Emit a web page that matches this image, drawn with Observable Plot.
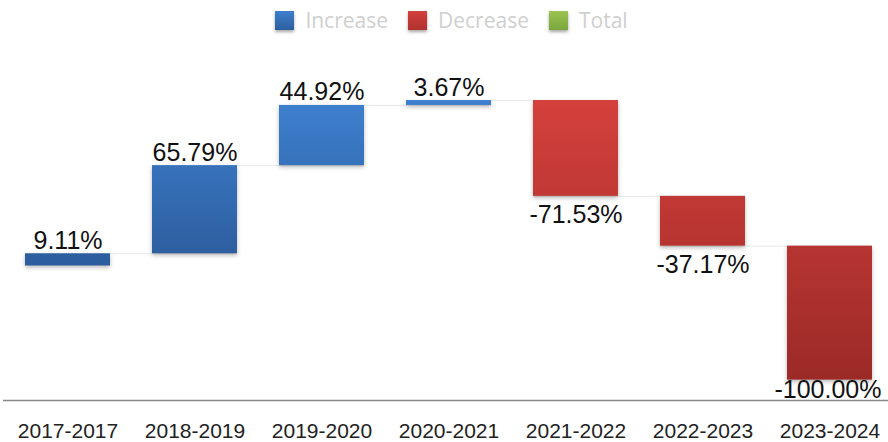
<!DOCTYPE html>
<html>
<head>
<meta charset="utf-8">
<script src="https://cdn.jsdelivr.net/npm/d3@7"></script>
<script src="https://cdn.jsdelivr.net/npm/@observablehq/plot@0.6"></script>
<style>
  html, body { margin: 0; padding: 0; background: #fff; }
  #legend { height: 40px; display: flex; justify-content: center; align-items: center; padding-left: 15px; box-sizing: border-box;
    font-family: "Open Sans", "Noto Sans", sans-serif; font-size: 21px; color: #cfcfcf; }
  #legend .item { display: flex; align-items: center; margin: 0 10px; }
  #legend .sw { width: 19px; height: 19px; margin-right: 11px; box-shadow: 0 2px 3px rgba(0,0,0,0.35); }
</style>
</head>
<body>
<div id="legend"></div>
<div id="chart"></div>
<script>
const categories = ["2017-2017", "2018-2019", "2019-2020", "2020-2021", "2021-2022", "2022-2023", "2023-2024"];
const changes = [9.11, 65.79, 44.92, 3.67, -71.53, -37.17, -100.00];
const labels = ["9.11%", "65.79%", "44.92%", "3.67%", "-71.53%", "-37.17%", "-100.00%"];
const legendNames = ["Increase", "Decrease", "Total"];
const legendColors = [["#3d7ecb", "#2d5f9f"], ["#d2403c", "#b0322f"], ["#9cc452", "#7aa63c"]];
const yDomain = [-100.4, 168.3];

// build waterfall table
let acc = 0;
const data = categories.map((c, i) => {
  const start = acc;
  acc += changes[i];
  return { cat: c, start, end: acc, change: changes[i], label: labels[i], i };
});
const connectors = data.slice(0, -1).map((d, i) => ({ x1: d.cat, x2: data[i + 1].cat, y: d.end }));
const last = data.length - 1;

// legend
const legend = document.getElementById("legend");
legendNames.forEach((n, k) => {
  const it = document.createElement("div");
  it.className = "item";
  const sw = document.createElement("div");
  sw.className = "sw";
  sw.style.background = `linear-gradient(${legendColors[k][0]}, ${legendColors[k][1]})`;
  const t = document.createElement("span");
  t.textContent = n;
  it.appendChild(sw); it.appendChild(t);
  legend.appendChild(it);
});

const chart = Plot.plot({
  width: 888,
  height: 402,
  marginTop: 0,
  marginBottom: 42,
  marginLeft: 3,
  marginRight: 0,
  style: { fontFamily: "'Liberation Sans', Arial, sans-serif", background: "#fff", overflow: "visible" },
  x: { domain: categories, range: [4, 894], paddingInner: 0.33, paddingOuter: 0.165 },
  y: { domain: yDomain, axis: null },
  marks: [
    Plot.ruleY(connectors, { x1: "x1", x2: "x2", y: "y", stroke: "#e8e8e8", strokeWidth: 1 }),
    Plot.barY(data.filter(d => d.change >= 0), { x: "cat", y1: "start", y2: "end", fill: "url(#gradBlue)" }),
    Plot.barY(data.filter(d => d.change < 0), { x: "cat", y1: "start", y2: "end", fill: "url(#gradRed)" }),
    Plot.ruleY([yDomain[0]], { stroke: "#8a8a8a", strokeWidth: 1.5 }),
    Plot.text(data.filter(d => d.change >= 0), { x: "cat", y: "end", text: "label", lineAnchor: "bottom", dy: -5, fontSize: 25, fill: "#111" }),
    Plot.text(data.filter(d => d.change < 0 && d.i !== last), { x: "cat", y: "end", text: "label", lineAnchor: "bottom", dy: 26.5, fontSize: 25, fill: "#111" }),
    Plot.text(data.filter(d => d.i === last), { x: "cat", y: "end", text: "label", lineAnchor: "bottom", dy: 18, dx: -2, fontSize: 25, fill: "#111" }),
    Plot.axisX({ tickSize: 0, tickPadding: 23, fontSize: 21, label: null, fill: "#222" })
  ]
});

// gradients and shadows
const svg = d3.select(chart);
const defs = svg.insert("defs", ":first-child");
const gb = defs.append("linearGradient").attr("id", "gradBlue").attr("gradientUnits", "userSpaceOnUse")
  .attr("x1", 0).attr("x2", 0).attr("y1", 60).attr("y2", 226);
gb.append("stop").attr("offset", "0%").attr("stop-color", "#3e80cf");
gb.append("stop").attr("offset", "100%").attr("stop-color", "#2c5c9c");
const gr = defs.append("linearGradient").attr("id", "gradRed").attr("gradientUnits", "userSpaceOnUse")
  .attr("x1", 0).attr("x2", 0).attr("y1", 60).attr("y2", 340);
gr.append("stop").attr("offset", "0%").attr("stop-color", "#d4403c");
gr.append("stop").attr("offset", "100%").attr("stop-color", "#9b2a27");
svg.selectAll("g[aria-label='bar']").style("filter", "drop-shadow(0px 2px 2px rgba(0,0,0,0.28))");

document.getElementById("chart").appendChild(chart);
</script>
</body>
</html>
